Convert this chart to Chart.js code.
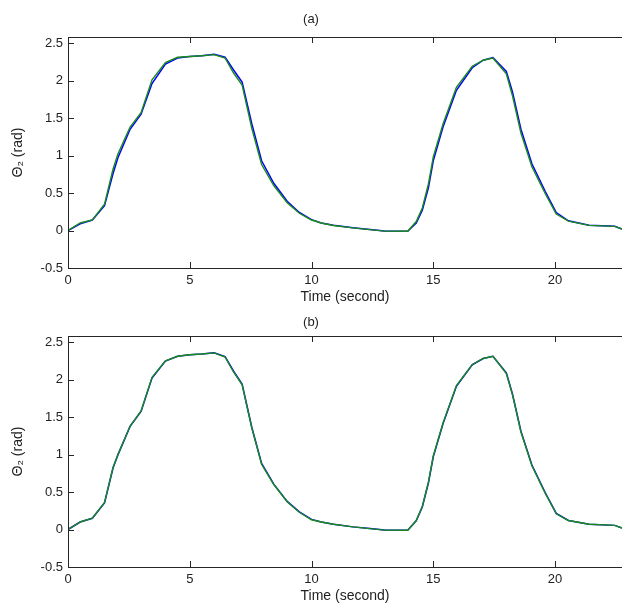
<!DOCTYPE html>
<html><head><meta charset="utf-8">
<script src="https://cdn.jsdelivr.net/npm/chart.js@4.4.1/dist/chart.umd.min.js"></script>
<style>
html,body{margin:0;padding:0;background:#fff;overflow:hidden;width:622px;height:605px;position:relative}
canvas{position:absolute;left:0}
</style></head>
<body>
<canvas id="c1" width="622" height="312" style="top:0px"></canvas>
<canvas id="c2" width="622" height="312" style="top:299px"></canvas>
<script>
// ---- data ----
const times = [0, 0.5, 1.0, 1.5, 1.85, 2.05, 2.55, 3.0, 3.45, 4.0, 4.5, 5.0, 5.5, 6.0, 6.45, 6.8, 7.15, 7.55, 7.95, 8.45, 9.0, 9.5, 10.0, 10.4, 10.9, 11.7, 12.4, 13.0, 13.95, 14.3, 14.55, 14.8, 15.0, 15.4, 15.95, 16.6, 17.05, 17.45, 18.0, 18.25, 18.6, 19.05, 19.6, 20.05, 20.55, 21.4, 22.45, 22.75];

const thetaA_green = [0, 0.10, 0.14, 0.35, 0.82, 1.02, 1.38, 1.57, 2.01, 2.24, 2.31, 2.32, 2.33, 2.345, 2.30, 2.10, 1.94, 1.36, 0.88, 0.60, 0.37, 0.23, 0.14, 0.10, 0.067, 0.035, 0.012, -0.008, -0.01, 0.12, 0.30, 0.62, 0.98, 1.42, 1.91, 2.19, 2.27, 2.30, 2.09, 1.80, 1.30, 0.85, 0.49, 0.22, 0.125, 0.068, 0.055, 0.02];
const thetaA_blue  = [0, 0.09, 0.14, 0.33, 0.76, 0.97, 1.35, 1.55, 1.96, 2.22, 2.30, 2.32, 2.33, 2.35, 2.31, 2.14, 1.98, 1.42, 0.93, 0.63, 0.39, 0.24, 0.145, 0.10, 0.07, 0.036, 0.012, -0.008, -0.01, 0.10, 0.27, 0.57, 0.93, 1.38, 1.87, 2.17, 2.27, 2.305, 2.12, 1.85, 1.35, 0.89, 0.52, 0.24, 0.13, 0.07, 0.056, 0.02];

const thetaB_green = [0, 0.10, 0.15, 0.36, 0.83, 1.00, 1.38, 1.58, 2.03, 2.25, 2.31, 2.33, 2.34, 2.355, 2.30, 2.10, 1.93, 1.35, 0.87, 0.60, 0.37, 0.23, 0.13, 0.10, 0.07, 0.035, 0.012, -0.008, -0.01, 0.12, 0.31, 0.63, 0.98, 1.42, 1.92, 2.20, 2.28, 2.31, 2.08, 1.80, 1.30, 0.85, 0.48, 0.21, 0.12, 0.07, 0.055, 0.02];
const thetaB_blue  = [0, 0.10, 0.15, 0.355, 0.82, 0.995, 1.375, 1.575, 2.02, 2.245, 2.31, 2.33, 2.34, 2.355, 2.305, 2.11, 1.94, 1.36, 0.88, 0.605, 0.375, 0.235, 0.135, 0.10, 0.07, 0.035, 0.012, -0.008, -0.01, 0.115, 0.30, 0.62, 0.97, 1.41, 1.91, 2.195, 2.28, 2.31, 2.09, 1.81, 1.31, 0.86, 0.49, 0.215, 0.12, 0.07, 0.055, 0.02];

const xTickValues = [0, 5, 10, 15, 20];
const yTickValues = [-0.5, 0, 0.5, 1, 1.5, 2, 2.5];
const xRange = [0, 22.75];
const yRange = [-0.5, 2.58];

// ---- drawing ----
const FONT = "'Liberation Sans', Arial, 'DejaVu Sans', sans-serif";
const TEXT = '#222';

const boxPlugin = {
  id: 'box',
  afterDraw(chart) {
    const {ctx, chartArea: a, scales: {x, y}} = chart;
    ctx.save();
    ctx.strokeStyle = '#262626';
    ctx.lineWidth = 1;
    ctx.beginPath();
    ctx.moveTo(a.left + 0.5, a.top); ctx.lineTo(a.left + 0.5, a.bottom + 1);
    ctx.moveTo(a.left, a.bottom + 0.5); ctx.lineTo(a.right, a.bottom + 0.5);
    ctx.moveTo(a.left, a.top + 0.5); ctx.lineTo(a.right, a.top + 0.5);
    x.ticks.forEach(t => {
      const px = Math.round(x.getPixelForValue(t.value)) + 0.5;
      ctx.moveTo(px, a.bottom); ctx.lineTo(px, a.bottom - 6);
      ctx.moveTo(px, a.top); ctx.lineTo(px, a.top + 6);
    });
    y.ticks.forEach(t => {
      const py = Math.round(y.getPixelForValue(t.value)) + 0.5;
      ctx.moveTo(a.left, py); ctx.lineTo(a.left + 6, py);
    });
    ctx.stroke();
    ctx.restore();
  }
};

function pts(xs, ys) { return xs.map((v, i) => ({x: v, y: ys[i]})); }
function fmt(v) { return String(Number(v.toFixed(1))); }

function makeChart(id, title, blue, green, titleTop, titleBottom) {
  return new Chart(document.getElementById(id), {
    type: 'scatter',
    data: {
      datasets: [
        {data: pts(times, green), order: 0, showLine: true, borderColor: '#1a8a1a', borderWidth: 1.4, pointRadius: 0, tension: 0},
        {data: pts(times, blue), order: 1, showLine: true, borderColor: '#0000ff', borderWidth: 1.5, pointRadius: 0, tension: 0}
      ]
    },
    options: {
      responsive: false,
      animation: false,
      devicePixelRatio: 1,
      layout: {padding: 0},
      plugins: {
        legend: {display: false},
        tooltip: {enabled: false},
        title: {display: true, text: title, color: TEXT,
          font: {family: FONT, size: 13, weight: 'normal', lineHeight: 1.2},
          padding: {top: titleTop, bottom: titleBottom}}
      },
      scales: {
        x: {
          type: 'linear', min: xRange[0], max: xRange[1],
          grid: {display: false, drawTicks: false}, border: {display: false},
          afterBuildTicks: s => { s.ticks = xTickValues.map(v => ({value: v})); },
          afterFit: s => { s.height = 44; },
          ticks: {color: TEXT, padding: 5, maxRotation: 0, autoSkip: false,
            font: {family: FONT, size: 13, lineHeight: 1.2}, callback: v => fmt(v)},
          title: {display: true, text: 'Time (second)', color: TEXT,
            font: {family: FONT, size: 14, lineHeight: 1.2}, padding: {top: 0, bottom: 6.2}}
        },
        y: {
          type: 'linear', min: yRange[0], max: yRange[1],
          grid: {display: false, drawTicks: false}, border: {display: false},
          afterBuildTicks: s => { s.ticks = yTickValues.map(v => ({value: v})); },
          afterFit: s => { s.width = 68; },
          ticks: {color: TEXT, padding: 5, autoSkip: false,
            font: {family: FONT, size: 13, lineHeight: 1.2}, callback: v => fmt(v)},
          title: {display: true, text: 'Θ₂ (rad)', color: TEXT,
            font: {family: FONT, size: 14, lineHeight: 1.2}, padding: {top: 10, bottom: 0}}
        }
      }
    },
    plugins: [boxPlugin]
  });
}

makeChart('c1', '(a)', thetaA_blue, thetaA_green, 12, 9.4);
makeChart('c2', '(b)', thetaB_blue, thetaB_green, 15.2, 6.2);
</script>
</body></html>
